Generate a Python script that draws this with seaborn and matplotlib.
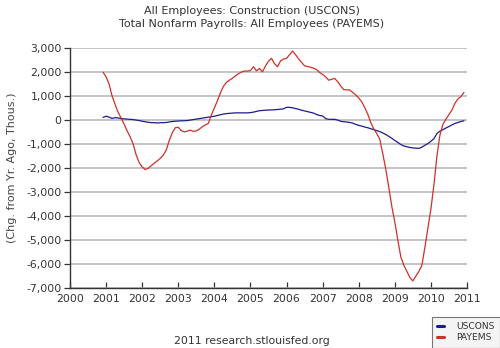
import numpy as np
import pandas as pd
import matplotlib
matplotlib.use("Agg")
import matplotlib.pyplot as plt
import seaborn as sns
from matplotlib.ticker import FuncFormatter

# Year-over-year change, thousands of persons, monthly Dec 2000 .. Dec 2010
payems = [
    1990,
    1800, 1500, 1000, 650, 320, 90, -170, -450, -700, -1000, -1450, -1770,   # 2001
    -1950, -2060, -2010, -1900, -1800, -1700, -1600, -1460, -1250, -850, -530, -320,  # 2002
    -300, -440, -490, -460, -420, -470, -450, -380, -280, -200, -140, 210,   # 2003
    500, 800, 1130, 1400, 1570, 1660, 1740, 1840, 1930, 2000, 2040, 2040,   # 2004
    2060, 2220, 2050, 2150, 2010, 2250, 2450, 2570, 2350, 2220, 2460, 2540,  # 2005
    2570, 2720, 2875, 2720, 2550, 2400, 2260, 2230, 2200, 2160, 2100, 1980,  # 2006
    1900, 1800, 1660, 1700, 1730, 1600, 1420, 1270, 1260, 1250, 1150, 1050,  # 2007
    920, 760, 520, 250, -100, -370, -560, -800, -1400, -2050, -2800, -3600,  # 2008
    -4250, -5000, -5700, -6050, -6300, -6550, -6700, -6500, -6300, -6050, -5300, -4500,  # 2009
    -3700, -2700, -1500, -620, -180, 40, 230, 420, 700, 880, 980, 1150,     # 2010
]
uscons = [
    110,
    160, 120, 70, 100, 90, 60, 50, 40, 30, 20, 0, -20,                      # 2001
    -50, -70, -90, -110, -110, -120, -110, -110, -100, -80, -60, -50,       # 2002
    -40, -30, -30, -20, 0, 20, 40, 60, 80, 100, 120, 140,                   # 2003
    160, 190, 220, 250, 270, 280, 290, 300, 300, 300, 300, 300,             # 2004
    310, 330, 360, 390, 400, 410, 420, 420, 430, 440, 450, 470,             # 2005
    530, 530, 510, 480, 450, 410, 380, 350, 320, 290, 230, 190,             # 2006
    170, 60, 30, 30, 30, 0, -50, -70, -80, -100, -130, -180,                # 2007
    -220, -250, -290, -320, -360, -400, -440, -480, -540, -600, -680, -760, # 2008
    -850, -930, -1020, -1080, -1110, -1140, -1160, -1170, -1180, -1130, -1050, -980,  # 2009
    -880, -780, -560, -460, -400, -330, -270, -200, -140, -100, -60, -30,   # 2010
]
titles = ["All Employees: Construction (USCONS)",
          "Total Nonfarm Payrolls: All Employees (PAYEMS)"]
series_names = ["USCONS", "PAYEMS"]
colors = ["#1c1c8a", "#cf3028"]
x_ticks = list(range(2000, 2012))
y_ticks = list(range(-7000, 3001, 1000))

dates = pd.date_range("2000-12-01", periods=len(payems), freq="MS")
t = dates.year + (dates.month - 1) / 12.0
df = pd.DataFrame({
    "t": np.concatenate([t, t]),
    "value": uscons + payems,
    "series": [series_names[0]] * len(uscons) + [series_names[1]] * len(payems),
})

sns.set_style("white")
plt.rcParams["font.family"] = ["DejaVu Sans"]

fig = plt.figure(figsize=(5.0, 3.48), dpi=100)
ax = fig.add_axes([0.14, 0.172, 0.794, 0.69])

sns.lineplot(data=df, x="t", y="value", hue="series", palette=colors,
             hue_order=series_names, linewidth=0.9, ax=ax, legend=False)

ax.set_xlim(2000, 2011)
ax.set_ylim(-7000, 3000)
ax.set_xticks(x_ticks)
ax.set_yticks(y_ticks)
ax.yaxis.set_major_formatter(FuncFormatter(lambda v, p: f"{int(v):,}"))
ax.grid(axis="y", color="#b4b4b4", linewidth=1.1)
ax.grid(axis="x", visible=False)
ax.set_axisbelow(True)

for s in ["top", "right"]:
    ax.spines[s].set_visible(False)
for s in ["left", "bottom"]:
    ax.spines[s].set_color("#333333")
    ax.spines[s].set_linewidth(1.0)

ax.tick_params(axis="y", direction="out", length=4, width=0.9, color="#333333",
               labelsize=7.8, labelcolor="#333333", pad=2, left=True)
ax.tick_params(axis="x", direction="in", length=4, width=0.9, color="#333333",
               labelsize=7.8, labelcolor="#333333", pad=4, bottom=True)

ax.set_xlabel("")
ax.set_ylabel("(Chg. from Yr. Ago, Thous.)", fontsize=8, color="#444444", labelpad=7)

fig.text(0.504, 1 - 11 / 348, titles[0], ha="center", va="center",
         fontsize=8, color="#333333")
fig.text(0.504, 1 - 24 / 348, titles[1], ha="center", va="center",
         fontsize=8, color="#333333")
fig.text(0.504, 1 - 341 / 348, "2011 research.stlouisfed.org", ha="center",
         va="center", fontsize=7.8, color="#333333")

handles = [plt.Line2D([], [], color=c, linewidth=2.2) for c in colors]
leg = fig.legend(handles, series_names, loc="lower right",
                 bbox_to_anchor=(1.0, 0.0), fontsize=6.6, frameon=True,
                 fancybox=False, handlelength=0.8, handletextpad=1.3,
                 borderpad=0.55, labelspacing=0.25, borderaxespad=0.05)
leg.get_frame().set_edgecolor("#555555")
leg.get_frame().set_facecolor("#f2f2f2")
leg.get_frame().set_linewidth(0.8)
for txt in leg.get_texts():
    txt.set_color("#333333")

fig.savefig("out.png", dpi=100)
